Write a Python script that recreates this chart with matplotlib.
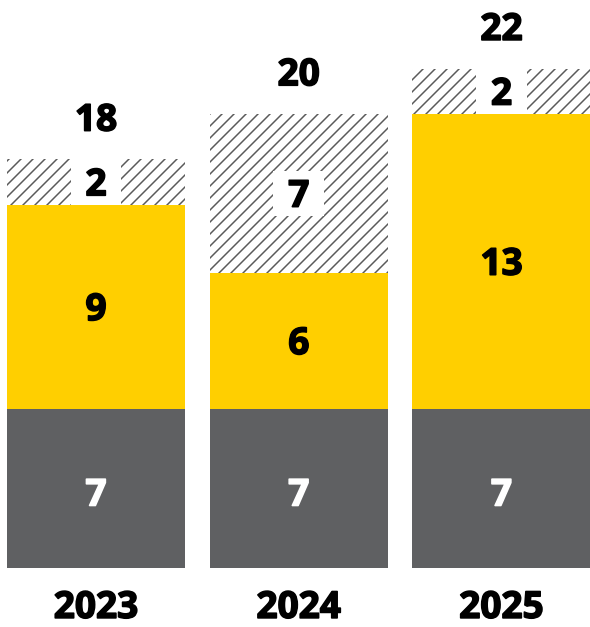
import matplotlib
matplotlib.use("Agg")
import matplotlib.pyplot as plt
import matplotlib.patheffects as pe
from matplotlib.patches import Rectangle

# chart data
years = ["2023", "2024", "2025"]
base = [7, 7, 7]
middle = [9, 6, 13]
top = [2, 7, 2]

GRAY = "#5f6062"
YELLOW = "#ffcf00"
HATCH_GRAY = "#5a5a5a"

plt.rcParams["font.family"] = ["Open Sans", "DejaVu Sans"]
plt.rcParams["hatch.linewidth"] = 1.5

# dpi 72 so that 1pt == 1px and hatch spacing matches
fig = plt.figure(figsize=(590 / 72, 627 / 72), dpi=72)
ax = fig.add_axes([0, 0, 1, 1])

x = list(range(len(years)))
width = 0.878

ax.bar(x, base, width, color=GRAY, linewidth=0)
ax.bar(x, middle, width, bottom=base, color=YELLOW, linewidth=0)
mid_top = [b + m for b, m in zip(base, middle)]
ax.bar(x, top, width, bottom=mid_top, facecolor="white",
       edgecolor=HATCH_GRAY, hatch="//", linewidth=0)

fs = 37
cap = 0.714 * fs  # digit height in px (dpi 72)


def label(xv, yv, s, color, dy=0):
    # centre the digits (not the text box) on (xv, yv)
    ax.annotate(s, xy=(xv, yv), xytext=(0, -cap / 2 + dy),
                textcoords="offset points", ha="center", va="baseline",
                fontsize=fs, fontweight="bold", color=color, zorder=4,
                path_effects=[pe.withStroke(linewidth=1.6, foreground=color)])


for i in x:
    label(i, base[i] / 2, str(base[i]), "white", dy=-4)
    label(i, base[i] + middle[i] / 2, str(middle[i]), "black")
    # white box behind the hatched label
    cy = mid_top[i] + top[i] / 2
    bw, bh = 0.25, 2.0
    ax.add_patch(Rectangle((i - bw / 2, cy - bh / 2), bw, bh,
                           facecolor="white", edgecolor="none", zorder=3))
    label(i, cy, str(top[i]), "black")
    total = base[i] + middle[i] + top[i]
    label(i, total, str(total), "black", dy=42)
    label(i, 0, years[i], "black", dy=-37)

ax.set_xlim(-0.4735, 2.4365)
ax.set_ylim(-2.615, 25.03)
ax.axis("off")

fig.savefig("out.png", dpi=72, facecolor="white")
